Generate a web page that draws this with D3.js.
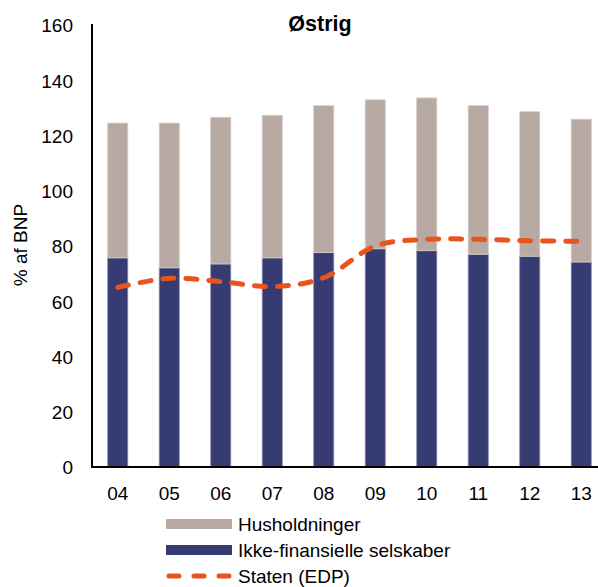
<!DOCTYPE html>
<html>
<head>
<meta charset="utf-8">
<script src="https://cdn.jsdelivr.net/npm/d3@7"></script>
<style>
  body { margin: 0; background: #fff; }
  text { font-family: "Liberation Sans", Arial, sans-serif; fill: #000; }
</style>
</head>
<body>
<svg id="chart"></svg>
<script>
// data
var years = ["04", "05", "06", "07", "08", "09", "10", "11", "12", "13"];
var ikkeFin = [75.7, 72.1, 73.5, 75.7, 77.6, 79.0, 78.3, 77.0, 76.3, 74.2];
var husholdninger = [48.8, 52.4, 53.1, 51.6, 53.2, 53.9, 55.3, 53.8, 52.3, 51.7];
var staten = [65.0, 68.3, 67.1, 65.3, 68.5, 80.0, 82.4, 82.4, 81.9, 81.7];
var yTicks = [0, 20, 40, 60, 80, 100, 120, 140, 160];
var seriesNames = ["Husholdninger", "Ikke-finansielle selskaber", "Staten (EDP)"];

var screen = { width: 598, height: 587 };
var colors = { hus: "#b8aaa2", ikke: "#363c72", staten: "#e8541c" };

var svg = d3.select("#chart")
  .attr("width", screen.width)
  .attr("height", screen.height);

var xScale = d3.scaleBand()
  .domain(years)
  .range([92, 607])
  .paddingInner(0.61)
  .paddingOuter(0.305);

var yScale = d3.scaleLinear()
  .domain([0, 160])
  .range([467, 25]);

// stacked bars
var rows = years.map(function(y, i) {
  return { year: y, ikke: ikkeFin[i], hus: husholdninger[i] };
});
var stack = d3.stack().keys(["ikke", "hus"])(rows);

svg.append("g").selectAll("g")
  .data(stack)
  .enter()
  .append("g")
  .attr("fill", function(d) { return colors[d.key]; })
  .attr("stroke", function(d) { return d.key == "ikke" ? "#8a8db0" : "#d6ccc7"; })
  .attr("stroke-width", 0.8)
  .selectAll("rect")
  .data(function(d) { return d; })
  .enter()
  .append("rect")
  .attr("x", function(d) { return xScale(d.data.year); })
  .attr("width", xScale.bandwidth())
  .attr("y", function(d) { return yScale(d[1]); })
  .attr("height", function(d) { return yScale(d[0]) - yScale(d[1]); });

// government debt line
var line = d3.line()
  .x(function(d, i) { return xScale(years[i]) + xScale.bandwidth() / 2; })
  .y(function(d) { return yScale(d); })
  .curve(d3.curveCatmullRom.alpha(0.5));

svg.append("path")
  .datum(staten)
  .attr("d", line)
  .attr("fill", "none")
  .attr("stroke", colors.staten)
  .attr("stroke-width", 5)
  .attr("stroke-linecap", "round")
  .attr("stroke-dasharray", "11 12");

// axes
var yAxis = d3.axisLeft(yScale).tickValues(yTicks).tickSize(0).tickPadding(19);
var gy = svg.append("g").attr("transform", "translate(92,0)").call(yAxis);
gy.select(".domain").attr("stroke", "#000").attr("stroke-width", 2).attr("d", "M0,24V467");
gy.selectAll("text").style("font-size", "19px").attr("dy", "0.36em");

var xAxis = d3.axisBottom(xScale).tickSize(0).tickPadding(20);
var gx = svg.append("g").attr("transform", "translate(0,467)").call(xAxis);
gx.select(".domain").attr("stroke", "#000").attr("stroke-width", 2).attr("d", "M91,0H598");
gx.selectAll("text").style("font-size", "19px");

// titles
svg.append("text")
  .attr("x", 320)
  .attr("y", 31)
  .attr("text-anchor", "middle")
  .style("font-size", "21.5px")
  .style("font-weight", "bold")
  .text("Østrig");

svg.append("text")
  .attr("transform", "translate(27,245) rotate(-90)")
  .attr("text-anchor", "middle")
  .style("font-size", "19px")
  .text("% af BNP");

// legend
var legend = svg.append("g");
var legY = [524, 550, 576];
legend.append("rect")
  .attr("x", 166).attr("y", legY[0] - 5).attr("width", 66).attr("height", 10)
  .attr("fill", colors.hus);
legend.append("rect")
  .attr("x", 166).attr("y", legY[1] - 5).attr("width", 66).attr("height", 10)
  .attr("fill", colors.ikke);
legend.append("line")
  .attr("x1", 169).attr("x2", 230).attr("y1", legY[2]).attr("y2", legY[2])
  .attr("stroke", colors.staten)
  .attr("stroke-width", 5)
  .attr("stroke-linecap", "round")
  .attr("stroke-dasharray", "10 15");
legend.selectAll("text.leg")
  .data(seriesNames)
  .enter()
  .append("text")
  .attr("class", "leg")
  .attr("x", 238)
  .attr("y", function(d, i) { return legY[i] + 6.5; })
  .style("font-size", "19px")
  .text(function(d) { return d; });
</script>
</body>
</html>
